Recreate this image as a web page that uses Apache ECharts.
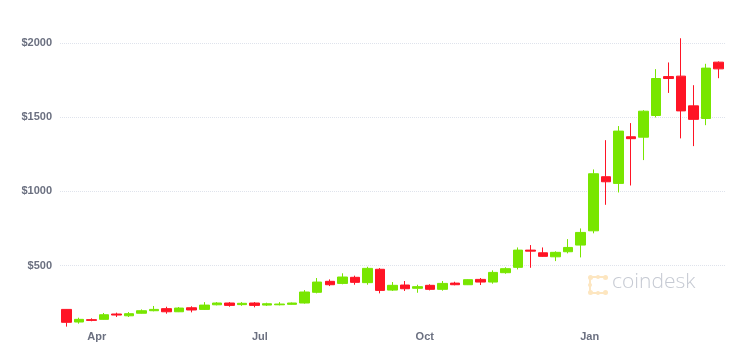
<!DOCTYPE html>
<html>
<head>
<meta charset="utf-8">
<script src="https://cdn.jsdelivr.net/npm/echarts@6/dist/echarts.min.js"></script>
<style>html,body{margin:0;padding:0;background:#fff}#c{width:745px;height:355px}</style>
</head>
<body>
<div id="c"></div>
<script>
var categories = ['2020-03-15','2020-03-22','2020-03-29','2020-04-05','2020-04-12','2020-04-19','2020-04-26','2020-05-03','2020-05-10','2020-05-17','2020-05-24','2020-05-31','2020-06-07','2020-06-14','2020-06-21','2020-06-28','2020-07-05','2020-07-12','2020-07-19','2020-07-26','2020-08-02','2020-08-09','2020-08-16','2020-08-23','2020-08-30','2020-09-06','2020-09-13','2020-09-20','2020-09-27','2020-10-04','2020-10-11','2020-10-18','2020-10-25','2020-11-01','2020-11-08','2020-11-15','2020-11-22','2020-11-29','2020-12-06','2020-12-13','2020-12-20','2020-12-27','2021-01-03','2021-01-10','2021-01-17','2021-01-24','2021-01-31','2021-02-07','2021-02-14','2021-02-21','2021-02-28','2021-03-07','2021-03-14'];
var openV  = [206,121,137,139,175,163,180,197,211,190,217,206,237,249,238,249,235,237,240,249,321,395,381,422,386,476,336,370,348,368,341,383,372,408,390,453,489,605,587,560,594,639,735,1099,1054,1368,1365,1511,1773,1776,1576,1491,1870];
var closeV = [119,139,132,170,168,177,197,206,190,215,202,235,249,233,247,233,244,242,249,323,390,372,424,388,482,334,368,345,359,341,381,372,406,390,455,480,605,598,563,590,623,724,1119,1065,1406,1355,1540,1760,1760,1542,1485,1830,1825];
var lowV   = [90,110,126,137,155,155,178,193,177,188,186,203,233,224,230,220,229,233,238,245,314,363,375,372,372,314,330,330,318,334,332,368,370,370,379,446,475,486,560,531,583,556,718,910,993,1040,1211,1498,1663,1357,1305,1446,1762];
var highV  = [207,150,146,182,184,188,206,229,224,222,227,255,255,255,255,255,251,255,252,336,417,408,449,433,493,484,390,397,372,375,397,392,408,417,469,489,623,639,623,597,679,751,1148,1345,1440,1460,1547,1823,1868,2031,1715,1859,1875];
var tickLabels = ['Apr','Jul','Oct','Jan'];
var tickDates  = ['2020-04-01','2020-07-01','2020-10-01','2021-01-01'];
var yTicks = [500,1000,1500,2000];

var DAY = 86400000;
var t0 = Date.parse(categories[0]);
function dayOff(s){ return (Date.parse(s) - t0) / DAY; }
var tickPos = tickDates.map(dayOff);
var lastOff = dayOff(categories[categories.length-1]);

var ohlc = categories.map(function(c,i){ return [openV[i], closeV[i], lowV[i], highV[i]]; });

var GREEN = '#78e600', RED = '#ff1425';
var chart = echarts.init(document.getElementById('c'), null, {renderer:'canvas'});
chart.setOption({
  animation:false,
  backgroundColor:'#ffffff',
  grid:[
    {left:60, right:20, top:28, bottom:15},
    {left:60, right:20, top:300, bottom:26}
  ],
  xAxis:[
    {type:'category', gridIndex:0, data:categories, boundaryGap:true, show:false},
    {type:'value', gridIndex:1, min:-3.5, max:lastOff+3.5,
     axisLine:{show:false}, axisTick:{show:false}, splitLine:{show:false},
     axisLabel:{customValues:tickPos, margin:2, color:'#6b7080', fontWeight:'bold', fontSize:11,
       fontFamily:'Liberation Sans, Arial, sans-serif',
       formatter:function(v){ var k = tickPos.indexOf(v); return k>=0 ? tickLabels[k] : ''; }}}
  ],
  yAxis:[
    {type:'value', gridIndex:0, min:0, max:2100, interval:500,
     axisLine:{show:false}, axisTick:{show:false},
     axisLabel:{margin:8, color:'#6b7080', fontWeight:'bold', fontSize:11,
       fontFamily:'Liberation Sans, Arial, sans-serif',
       formatter:function(v){ return yTicks.indexOf(v)>=0 ? '$'+v : ''; }},
     splitLine:{show:true, showMinLine:false, showMaxLine:false, lineStyle:{color:'#dfe3ec', type:'dotted', width:1}}},
    {type:'value', gridIndex:1, show:false}
  ],
  graphic:[
    {type:'group', left:588, top:275, silent:true, children:[
      {type:'rect', shape:{x:2, y:1, width:16, height:2}, style:{fill:'#fde6c0'}},
      {type:'rect', shape:{x:2, y:17, width:16, height:2}, style:{fill:'#fde6c0'}},
      {type:'rect', shape:{x:1, y:2, width:2, height:16}, style:{fill:'#fde6c0'}},
      {type:'circle', shape:{cx:2.5, cy:2.5, r:2.5}, style:{fill:'#fde6c0'}},
      {type:'circle', shape:{cx:10, cy:2, r:2}, style:{fill:'#fde6c0'}},
      {type:'circle', shape:{cx:17.5, cy:2.5, r:2.5}, style:{fill:'#fde6c0'}},
      {type:'circle', shape:{cx:2.5, cy:17.5, r:2.5}, style:{fill:'#fde6c0'}},
      {type:'circle', shape:{cx:10, cy:18, r:2}, style:{fill:'#fde6c0'}},
      {type:'circle', shape:{cx:17.5, cy:17.5, r:2.5}, style:{fill:'#fde6c0'}},
      {type:'circle', shape:{cx:2, cy:10, r:2}, style:{fill:'#fde6c0'}}
    ]},
    {type:'text', left:612, top:272, silent:true,
     style:{text:'coindesk', fill:'#c6cad3', font:'300 21px "Open Sans", Lato, sans-serif'}}
  ],
  series:[{
    type:'candlestick', xAxisIndex:0, yAxisIndex:0, data:ohlc, barWidth:10,
    itemStyle:{color:GREEN, color0:RED, borderColor:GREEN, borderColor0:RED, borderWidth:1}
  }]
});
</script>
</body>
</html>
